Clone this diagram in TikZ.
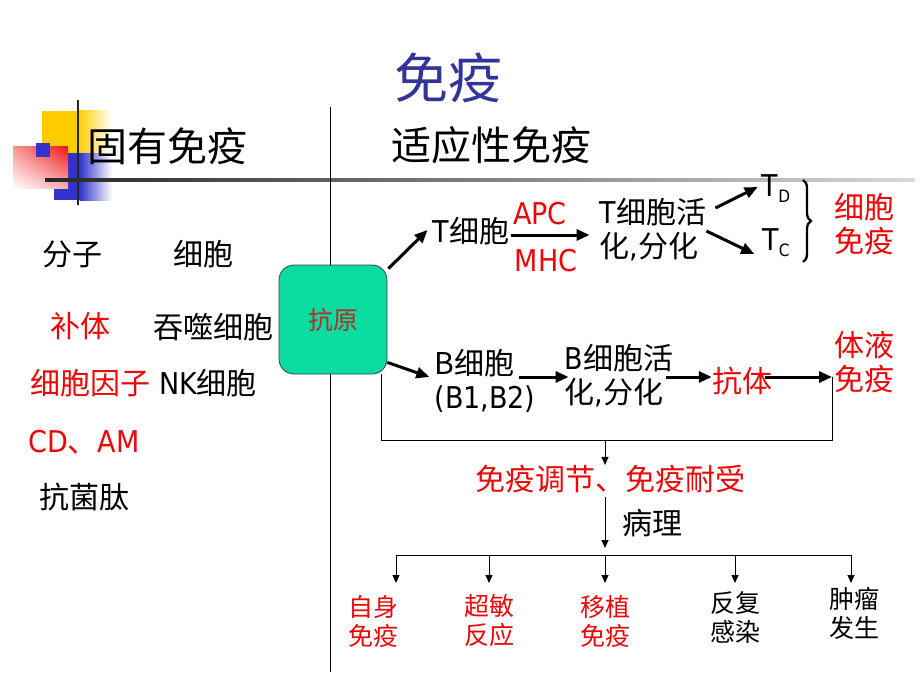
\documentclass[tikz,border=0pt]{standalone}
\usepackage{fontspec}
\setmainfont{Noto Sans CJK SC}
\newfontfamily\lat{DejaVu Sans}[FakeStretch=0.9]
\usetikzlibrary{arrows.meta,decorations.pathreplacing,calc,shadings}
\definecolor{cred}{RGB}{235,8,8}
\definecolor{tblue}{RGB}{51,51,153}
\definecolor{agfill}{RGB}{10,220,160}
\definecolor{agtext}{RGB}{190,40,40}
\definecolor{dyel}{RGB}{255,204,0}
\definecolor{dblue}{RGB}{51,51,204}
\definecolor{dred}{RGB}{238,20,20}
\tikzset{
  txt/.style={inner sep=0pt, align=center},
  fa/.style={font=\fontsize{30}{34}\selectfont},
  fb/.style={font=\fontsize{25}{29}\selectfont},
  arr/.style={line width=3pt, -{Triangle[length=13pt,width=11pt]}},
  tarr/.style={line width=1pt, -{Triangle[length=8pt,width=7pt]}},
  agbox/.style={draw=black!75, line width=0.8pt, fill=agfill, rounded corners=15pt,
    minimum width=108pt, minimum height=109pt, inner sep=0pt,
    text=agtext, font=\fontsize{25}{29}\selectfont},
}
\begin{document}
\begin{tikzpicture}[x=1pt,y=-1pt]
\useasboundingbox (0,0) rectangle (920,690);
\fill[white] (0,0) rectangle (920,690);
% decoration
\fill[dyel] (42,111) rectangle (79,153);
\shade[left color=dyel, right color=white] (78.5,111) rectangle (112,153);
\fill[dblue] (54,153) rectangle (80,200);
\shade[left color=dblue, right color=white] (79.5,153) rectangle (112,200);
\shade[upper right=dred, upper left=dred!45, lower left=white, lower right=dred!35] (13,146) rectangle (68,188);
\fill[dblue] (36,143) rectangle (50,157);
\draw[line width=2.5pt, black!85] (78,100) -- (78,205);
\shade[left color=black!85, right color=black!15] (45,178.5) rectangle (915,181.5);
% divider
\draw[line width=1pt] (330,107) -- (330,672);
% titles
\node[txt, text=tblue, font=\fontsize{54}{60}\selectfont] (title) at (448,78) {免疫};
\node[txt, font=\fontsize{40}{46}\selectfont] (innate) at (167,146) {固有免疫};
\node[txt, font=\fontsize{40}{46}\selectfont] (adapt) at (491,145) {适应性免疫};
% left column
\node[txt, fa] (mol) at (72,254) {分子};
\node[txt, fa] (cel) at (203,254) {细胞};
\node[txt, fa, text=cred] (bt) at (80,326) {补体};
\node[txt, fa] (tun) at (213,327) {吞噬细胞};
\node[txt, fa, text=cred] (cyt) at (90,383) {细胞因子};
\node[txt, fa] (nk) at (208,383) {{\lat NK}细胞};
\node[txt, fa, text=cred] (cdam) at (84,442) {{\lat CD}、{\lat AM}};
\node[txt, fa] (amp) at (84,497) {抗菌肽};
% antigen box
\node[agbox] (ag) at (333,319.5) {抗原};
% T branch
\node[txt, fa] (tcell) at (471,231) {{\lat T}细胞};
\node[txt, fa, text=cred] (apc) at (540,214) {\lat APC};
\node[txt, fa, text=cred] (mhc) at (546,261) {\lat MHC};
\node[txt, fa, align=left] (tact) at (653,230) {{\lat T}细胞活\\化{\lat ,}分化};
\node[txt, fa] (td) at (776,189) {{\lat T}\raisebox{-6pt}{\lat\fontsize{17}{17}\selectfont D}};
\node[txt, fa] (tc) at (776,243) {{\lat T}\raisebox{-6pt}{\lat\fontsize{17}{17}\selectfont C}};
\node[txt, fa, text=cred] (cellimm) at (864,224) {细胞\\免疫};
\draw[decorate, decoration={brace, amplitude=8pt}, line width=2.3pt] (803,180) -- (803,262);
\draw[arr] ([shift={(1,4)}]ag.north east) -- ([shift={(-5,-1)}]tcell.west);
\draw[arr] ([shift={(2,4)}]tcell.east) -- ([shift={(-10,4)}]tcell.east -| tact.west);
\draw[arr] ([shift={(9,-22)}]tact.east) -- ([shift={(-4,-2)}]td.west);
\draw[arr] ([shift={(0,1)}]tact.east) -- ([shift={(-8,11)}]tc.west);
% B branch
\node[txt, fa, align=left] (bcell) at (485,381) {B细胞\\{\lat (B1,B2)}};
\node[txt, fa, align=left] (bact) at (619,376) {{\lat B}细胞活\\化{\lat ,}分化};
\node[txt, fa, text=cred] (kt) at (742,381) {抗体};
\node[txt, fa, text=cred] (hum) at (864,362) {体液\\免疫};
\coordinate (rc) at (832,377);
\coordinate (lc) at (381,374);
\coordinate (mid) at (605,440);
\draw[arr] ([shift={(0,-12)}]ag.south east) -- ([shift={(-5,-4)}]bcell.west);
\draw[arr] ([shift={(-17,-4)}]bcell.east) -- ([shift={(4,1)}]bact.west);
\draw[arr] ([shift={(-7,1)}]bact.east) -- ([shift={(0,-4)}]kt.west);
\draw[arr] ([shift={(-7,-4)}]kt.east) -- (rc);
\draw[line width=1pt] (lc) -- (lc |- mid) -- (rc |- mid) -- (rc);
% regulation
\node[txt, fa, text=cred] (reg) at (610,479) {免疫调节、免疫耐受};
\node[txt, fa] (path) at (652,523) {病理};
\coordinate (bus) at (605,555);
\draw[tarr] (mid) -- (mid |- reg.north);
\draw[tarr] ([shift={(0,4)}]mid |- reg.south) -- ([shift={(0,-7)}]bus);
% outcomes
\node[txt, fb, text=cred] (l1) at (373,621) {自身\\免疫};
\node[txt, fb, text=cred] (l2) at (489,621) {超敏\\反应};
\node[txt, fb, text=cred] (l3) at (605,621) {移植\\免疫};
\node[txt, fb] (l4) at (735,617) {反复\\感染};
\node[txt, fb] (l5) at (854,613) {肿瘤\\发生};
\coordinate (a1) at (396,555);
\coordinate (a2) at (489,555);
\coordinate (a3) at (605,555);
\coordinate (a4) at (735,555);
\coordinate (a5) at (851,555);
\draw[line width=1pt] (a1) -- (a5);
\draw[tarr] (a1) -- ([shift={(0,28)}]a1);
\draw[tarr] (a2) -- ([shift={(0,28)}]a2);
\draw[tarr] (a3) -- ([shift={(0,28)}]a3);
\draw[tarr] (a4) -- ([shift={(0,28)}]a4);
\draw[tarr] (a5) -- ([shift={(0,28)}]a5);
\end{tikzpicture}
\end{document}
